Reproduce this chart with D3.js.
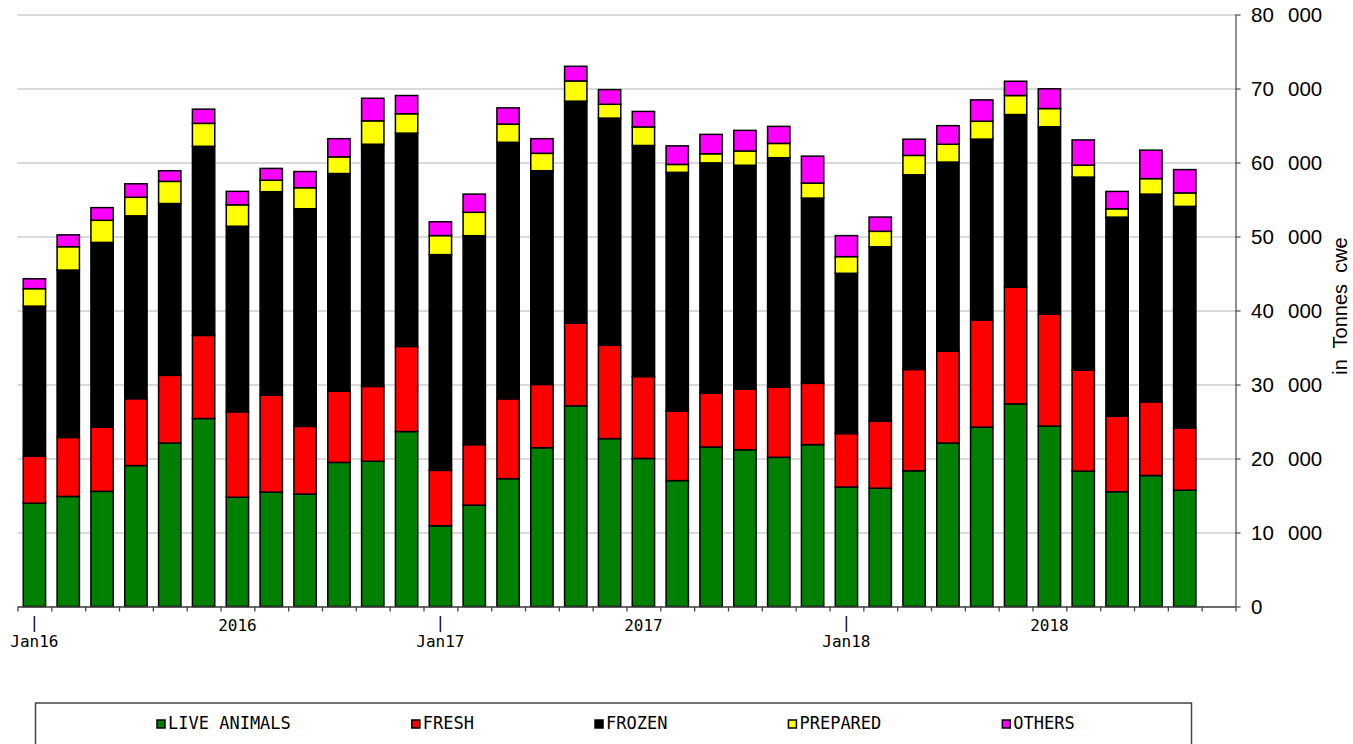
<!DOCTYPE html>
<html>
<head>
<meta charset="utf-8">
<script src="https://cdn.jsdelivr.net/npm/d3@7"></script>
<style>
  body { margin: 0; background: #fff; }
  svg { display: block; }
  .mono { font-family: "DejaVu Sans Mono", monospace; }
</style>
</head>
<body>
<div id="chart"></div>
<script>
// months on the axis (last slot stays empty)
const months = [
  "Jan16","Feb16","Mar16","Apr16","May16","Jun16","Jul16","Aug16","Sep16","Oct16","Nov16","Dec16",
  "Jan17","Feb17","Mar17","Apr17","May17","Jun17","Jul17","Aug17","Sep17","Oct17","Nov17","Dec17",
  "Jan18","Feb18","Mar18","Apr18","May18","Jun18","Jul18","Aug18","Sep18","Oct18","Nov18","Dec18"
];
const seriesNames = ["LIVE ANIMALS", "FRESH", "FROZEN", "PREPARED", "OTHERS"];
const colors = ["#008000", "#ff0000", "#000000", "#ffff00", "#ff00ff"];

const liveAnimals = [13960,14870,15560,19040,22090,25400,14760,15460,15190,19470,19630,23640,
  10910,13690,17270,21450,27110,22680,20000,17010,21550,21180,20160,21870,
  16150,15990,18340,22090,24230,27380,24390,18290,15510,17700,15720];
const fresh = [6360,7970,8660,9040,9150,11230,11550,13100,9150,9630,10110,11500,
  7490,8180,10800,8560,11180,12620,11070,9410,7270,8180,9470,8290,
  7220,9040,13690,12410,14490,15780,15140,13640,10210,9950,8400];
const frozen = [20270,22620,24980,24710,23210,25560,25080,27490,29410,29410,32730,28830,
  29150,28240,34660,28880,30000,30700,31230,32250,31130,30270,31020,25030,
  21660,23580,26310,25560,24440,23320,25300,26100,26900,28080,29950];
const prepared = [2360,3160,2990,2510,3000,3100,2890,1550,2840,2250,3160,2620,
  2570,3160,2460,2350,2730,1870,2510,1070,1230,1930,1930,2030,
  2250,2090,2620,2410,2410,2570,2460,1600,1120,2090,1820];
const others = [1340,1600,1710,1820,1440,1920,1820,1600,2190,2460,3050,2460,
  1870,2460,2190,1980,1980,1980,2090,2510,2620,2780,2300,3640,
  2840,1930,2190,2510,2890,1930,2670,3420,2350,3850,3150];

const yTicks = [0, 10000, 20000, 30000, 40000, 50000, 60000, 70000, 80000];
const monthMarks = ["Jan16", "Jan17", "Jan18"];
const yearMarkMonths = ["Jul16", "Jul17", "Jul18"];
const yearMarkLabels = ["2016", "2017", "2018"];
const yTitle = "in  Tonnes  cwe";

const width = 1353, height = 744;
const plot = { left: 17.5, right: 1235.5, top: 14.5, bottom: 606.5 };

const svg = d3.select("#chart").append("svg")
  .attr("width", width)
  .attr("height", height);

const series = [liveAnimals, fresh, frozen, prepared, others];
const rows = liveAnimals.map((d, i) => {
  const row = { month: months[i] };
  seriesNames.forEach((name, k) => { row[name] = series[k][i]; });
  return row;
});
const stacked = d3.stack().keys(seriesNames)(rows);

const x = d3.scaleBand()
  .domain(months)
  .range([plot.left, plot.right])
  .paddingInner(0.34)
  .paddingOuter(0.17);

const xSlots = d3.scaleLinear()
  .domain([0, months.length])
  .range([plot.left, plot.right]);

const y = d3.scaleLinear()
  .domain([0, 80000])
  .range([plot.bottom, plot.top]);

// grid lines
svg.append("g")
  .attr("class", "grid")
  .attr("transform", `translate(${plot.right},0)`)
  .call(d3.axisLeft(y).tickValues(yTicks).tickSize(plot.right - plot.left).tickFormat(""))
  .call(g => g.select(".domain").remove())
  .call(g => g.selectAll("line").attr("stroke", "#b4b4b4").attr("stroke-width", 1));

// bars
svg.append("g")
  .attr("class", "bars")
  .selectAll("g")
  .data(stacked)
  .enter()
  .append("g")
  .attr("fill", (d, k) => colors[k])
  .selectAll("rect")
  .data(d => d)
  .enter()
  .append("rect")
  .attr("x", d => x(d.data.month))
  .attr("y", d => y(d[1]))
  .attr("width", x.bandwidth())
  .attr("height", d => y(d[0]) - y(d[1]))
  .attr("stroke", "#000")
  .attr("stroke-width", 1.5);

// x axis with slot boundary ticks
svg.append("g")
  .attr("class", "x axis")
  .attr("transform", `translate(0,${plot.bottom})`)
  .call(d3.axisBottom(xSlots).tickValues(d3.range(months.length + 1)).tickSize(5).tickSizeOuter(0).tickFormat(""))
  .call(g => g.select(".domain").attr("stroke", "#444").attr("stroke-width", 1.3))
  .call(g => g.selectAll(".tick line").attr("stroke", "#444").attr("stroke-width", 1.3));

const cx = m => x(m) + x.bandwidth() / 2;

const xLabels = svg.append("g").attr("class", "mono").attr("font-size", 16).attr("text-anchor", "middle");
monthMarks.forEach(m => {
  xLabels.append("text").attr("x", cx(m)).attr("y", 628).text("|");
  xLabels.append("text").attr("x", cx(m)).attr("y", 646.5).text(m);
});
yearMarkMonths.forEach((m, i) => {
  xLabels.append("text").attr("x", cx(m)).attr("y", 630.5).text(yearMarkLabels[i]);
});

// right value axis
const labelX = 1251;
svg.append("g")
  .attr("class", "y axis")
  .attr("transform", `translate(${plot.right},0)`)
  .call(d3.axisRight(y).tickValues(yTicks).tickSize(5).tickSizeOuter(0).tickFormat(""))
  .call(g => g.select(".domain").attr("stroke", "#555").attr("stroke-width", 1.3))
  .call(g => g.selectAll(".tick line").attr("stroke", "#555").attr("stroke-width", 1.3));

const yLabels = svg.append("g")
  .attr("font-family", "'Liberation Sans', Arial, sans-serif")
  .attr("font-size", 20.5)
  .selectAll("text")
  .data(yTicks)
  .enter()
  .append("text")
  .attr("x", labelX)
  .attr("y", d => y(d))
  .attr("dy", "0.36em");
yLabels.append("tspan").text(d => d === 0 ? "0" : String(d / 1000));
yLabels.filter(d => d !== 0).append("tspan").attr("x", labelX + 37).text("000");

svg.append("text")
  .attr("transform", `translate(1347,306) rotate(-90)`)
  .attr("text-anchor", "middle")
  .attr("font-family", "'Liberation Sans', Arial, sans-serif")
  .attr("font-size", 20)
  .style("white-space", "pre")
  .text(yTitle);

// legend
svg.append("rect")
  .attr("x", 35.5)
  .attr("y", 703)
  .attr("width", 1156)
  .attr("height", 60)
  .attr("fill", "none")
  .attr("stroke", "#444")
  .attr("stroke-width", 1.5);

const legend = svg.append("g").attr("class", "mono").attr("font-size", 17);
let lx = 157;
seriesNames.forEach((name, k) => {
  legend.append("rect")
    .attr("x", lx).attr("y", 720)
    .attr("width", 8).attr("height", 8)
    .attr("fill", colors[k])
    .attr("stroke", "#000")
    .attr("stroke-width", 1.5);
  const t = legend.append("text")
    .attr("x", lx + 11)
    .attr("y", 729)
    .text(name);
  lx += 11 + t.node().getComputedTextLength() + 121;
});
</script>
</body>
</html>
